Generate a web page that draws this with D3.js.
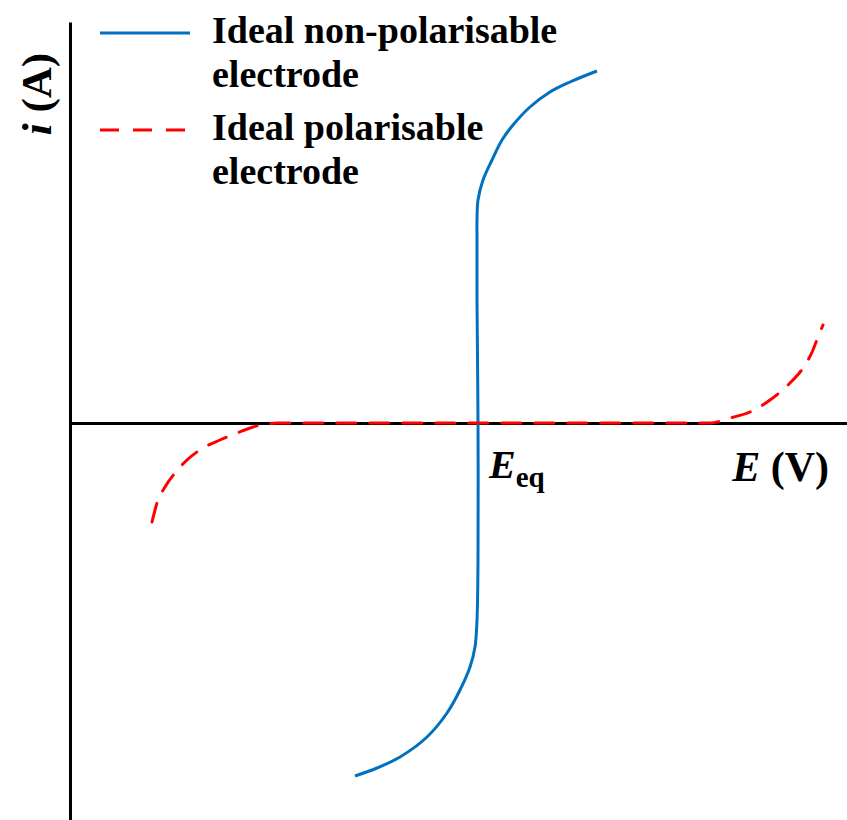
<!DOCTYPE html>
<html>
<head>
<meta charset="utf-8">
<script src="https://cdn.jsdelivr.net/npm/d3@7"></script>
<style>
  body { margin: 0; background: #fff; }
  text { font-family: "Liberation Serif", "Times New Roman", serif; font-weight: bold; fill: #000; }
</style>
</head>
<body>
<svg id="chart"></svg>
<script>
// data (E relative to E_eq, i in arbitrary units)
var blueE = [-1.23, -1.01, -0.78, -0.51, -0.31, -0.18, -0.08, -0.03, -0.01, 0.00, 0.00, -0.01, -0.01, -0.01, 0.00, 0.05, 0.14, 0.24, 0.35, 0.52, 0.72, 0.92, 1.19];
var blueI = [-3.53, -3.45, -3.34, -3.14, -2.90, -2.67, -2.44, -2.24, -1.97, -1.37, 0.00, 1.23, 1.83, 2.03, 2.23, 2.43, 2.63, 2.83, 2.98, 3.16, 3.31, 3.41, 3.52];

var redE = [-3.26, -3.21, -3.13, -3.03, -2.91, -2.75, -2.58, -2.41, -2.25, -2.11, -2.01, 2.32, 2.52, 2.72, 2.92, 3.12, 3.25, 3.35, 3.40, 3.45];
var redI = [-0.99, -0.80, -0.64, -0.50, -0.37, -0.25, -0.17, -0.10, -0.04, -0.01, 0.00, 0.00, 0.05, 0.11, 0.23, 0.40, 0.55, 0.73, 0.86, 0.98];

var legendLabels = [["Ideal non-polarisable", "electrode"], ["Ideal polarisable", "electrode"]];
var eEq = 0;

var svgWidth = 847, svgHeight = 820;

var svg = d3.select("#chart")
    .attr("width", svgWidth)
    .attr("height", svgHeight);

var x = d3.scaleLinear()
    .domain([-4.08, 3.69])
    .range([70, 847]);

var y = d3.scaleLinear()
    .domain([-3.97, 4.01])
    .range([820, 22]);

// axes - just the lines, no ticks
svg.append("g")
    .attr("transform", "translate(" + x(-4.08) + ",0)")
    .call(d3.axisLeft(y).tickValues([]).tickSizeOuter(0))
    .select(".domain")
    .attr("stroke", "#000")
    .attr("stroke-width", 3);

svg.append("g")
    .attr("transform", "translate(0," + y(0) + ")")
    .call(d3.axisBottom(x).tickValues([]).tickSizeOuter(0))
    .select(".domain")
    .attr("stroke", "#000")
    .attr("stroke-width", 3);

var blueData = blueE.map(function(d, i) { return { e: d, i: blueI[i] }; });
var redData = redE.map(function(d, i) { return { e: d, i: redI[i] }; });

var blueLine = d3.line()
    .x(function(d) { return x(d.e); })
    .y(function(d) { return y(d.i); })
    .curve(d3.curveCatmullRom.alpha(0.5));

// monotone in E so the flat part stays on the axis
var redLine = d3.line()
    .x(function(d) { return x(d.e); })
    .y(function(d) { return y(d.i); })
    .curve(d3.curveMonotoneX);

svg.append("path")
    .datum(blueData)
    .attr("fill", "none")
    .attr("stroke", "#0070C0")
    .attr("stroke-width", 3)
    .attr("d", blueLine);

svg.append("path")
    .datum(redData)
    .attr("fill", "none")
    .attr("stroke", "#ff0000")
    .attr("stroke-width", 3)
    .attr("stroke-linecap", "round")
    .attr("stroke-dasharray", "19,14")
    .attr("d", redLine);

// axis labels
svg.append("text")
    .attr("transform", "translate(51,94) rotate(-90)")
    .attr("text-anchor", "middle")
    .style("font-size", "43px")
    .html('<tspan font-style="italic">i</tspan> (A)');

var eqLabel = svg.append("text")
    .attr("x", x(eEq) + 11)
    .attr("y", 478)
    .style("font-size", "40px");
eqLabel.append("tspan").attr("font-style", "italic").text("E");
eqLabel.append("tspan").attr("dy", 9).style("font-size", "29px").text("eq");

svg.append("text")
    .attr("x", 829)
    .attr("y", 481)
    .attr("text-anchor", "end")
    .style("font-size", "42px")
    .html('<tspan font-style="italic">E</tspan> (V)');

// legend
var legend = svg.append("g");
var legendY = [33, 130];
var legendColor = ["#0070C0", "#ff0000"];
var legendDash = [null, "19,14"];

legendLabels.forEach(function(lines, k) {
    legend.append("line")
        .attr("x1", 100)
        .attr("x2", 190)
        .attr("y1", legendY[k])
        .attr("y2", legendY[k])
        .attr("stroke", legendColor[k])
        .attr("stroke-width", 3)
        .attr("stroke-dasharray", legendDash[k]);
    lines.forEach(function(t, j) {
        legend.append("text")
            .attr("x", 212)
            .attr("y", legendY[k] + 10 + j * 44)
            .style("font-size", "38px")
            .text(t);
    });
});
</script>
</body>
</html>
